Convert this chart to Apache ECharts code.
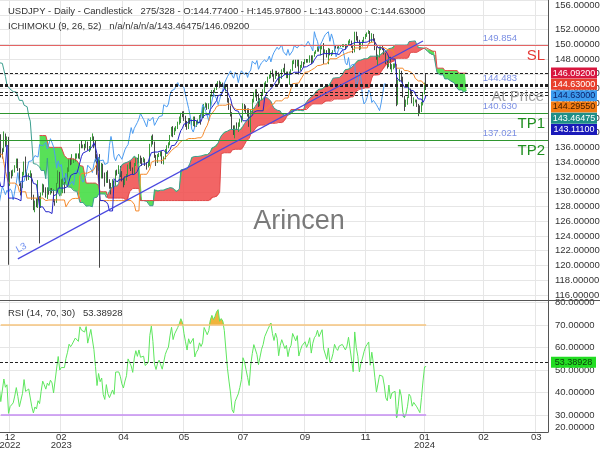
<!DOCTYPE html>
<html><head><meta charset="utf-8">
<script src="https://cdn.jsdelivr.net/npm/echarts@6/dist/echarts.min.js"></script>
<style>html,body{margin:0;padding:0;background:#fff}#c{width:600px;height:450px}</style>
</head><body><div id="c"></div>
<script>
// ---------- DATA ----------
const startDate = '2022-09-30';
const visibleStart = '2022-12-13';
const holidays = ['2022-12-26','2023-01-02','2023-12-25','2024-01-01'];
const futureDays = 78;
const tickDates = ['2022-12-21','2023-02-08','2023-04-05','2023-05-30','2023-07-21','2023-09-15','2023-11-09','2024-01-04','2024-02-11','2024-03-16'];

const open = [
144.45,144.74,144.82,144.13,144.56,145.14,145.33,145.70,145.82,146.89,147.20,148.72,148.96,149.26,149.87,150.15,147.66,148.95,148.02,146.37,146.30,147.46,148.71,148.21,147.89,148.19,146.61,146.62,145.63,146.40,141.00,138.77,139.91,139.32,139.53,140.19,140.38,142.04,141.22,139.60,138.60,139.17,138.92,138.68,138.05,135.30,134.32,136.73,137.00,136.60,136.59,136.59,
137.72,135.60,135.48,137.76,136.62,136.88,131.70,132.44,132.40,132.80,133.50,134.40,133.00,
131.10,131.00,132.40,134.00,132.10,131.90,132.30,132.40,129.20,127.90,128.50,128.10,128.90,128.40,129.60,130.70,130.20,129.60,130.20,129.90,130.40,
130.10,128.90,128.70,131.20,132.60,131.10,131.40,131.50,131.40,132.40,133.10,134.10,133.90,134.20,134.20,134.90,134.90,134.70,136.40,136.20,
136.20,136.10,136.70,135.80,135.90,137.20,137.30,136.10,134.90,133.20,134.20,133.40,133.70,131.90,131.30,132.50,131.40,130.90,130.70,131.40,130.90,132.80,132.70,
132.80,132.40,131.70,131.30,131.80,132.20,133.60,133.70,133.10,132.60,133.80,134.50,134.10,134.70,134.20,134.10,134.30,133.70,133.60,133.90,
136.30,137.50,136.50,134.70,134.20,134.80,135.10,135.20,134.40,134.50,135.70,136.10,136.40,137.60,138.70,137.90,138.60,138.60,139.40,139.90,140.60,140.40,139.80,
139.30,138.80,139.90,139.60,139.60,140.10,139.00,139.40,139.60,140.20,140.00,140.30,141.80,141.90,141.50,141.90,143.10,143.70,143.50,143.90,144.50,144.80,
144.30,144.60,144.50,144.10,144.10,142.20,141.30,140.30,138.50,138.10,138.80,138.70,139.20,139.60,140.10,141.80,141.50,140.90,140.30,139.60,141.20,
142.30,143.30,143.30,142.60,141.80,142.50,143.30,143.80,144.70,144.90,145.60,145.60,146.40,145.80,145.40,146.20,145.90,144.80,145.80,146.40,146.50,145.90,146.20,
145.50,146.20,146.50,147.70,147.70,147.30,147.80,146.60,147.10,147.50,147.40,147.90,147.60,147.90,148.40,147.60,148.40,148.90,149.10,149.60,149.30,
149.40,149.90,149.00,149.10,148.50,149.30,148.50,148.70,149.10,149.80,149.60,149.50,149.80,149.80,149.90,149.90,149.70,149.90,150.40,150.40,149.60,149.10,
151.70,150.90,150.40,149.40,150.00,150.40,150.90,151.30,151.50,151.70,150.40,151.40,150.70,149.60,148.30,148.40,149.50,149.60,149.40,148.70,147.50,147.20,
148.20,146.80,147.20,147.20,147.30,144.10,144.90,146.20,145.40,142.90,141.90,142.20,142.80,143.80,143.50,142.10,142.40,142.40,141.80,141.40,
141.00,142.00,143.30,144.774];

const high = [
144.90,145.05,144.90,144.85,145.20,145.45,145.90,145.85,146.95,147.65,148.85,149.10,149.40,149.95,150.30,151.94,149.70,149.20,148.30,146.80,147.85,148.85,148.80,148.30,148.40,148.40,147.00,146.80,146.60,146.79,141.60,140.50,140.40,140.20,140.70,140.50,142.25,142.20,141.60,139.70,139.40,139.30,139.20,139.90,138.10,135.90,136.90,137.40,137.85,137.10,136.80,137.90,
137.80,135.90,138.18,137.90,137.50,137.45,132.70,132.90,133.00,133.60,134.50,134.50,133.20,
131.40,132.70,134.10,134.77,132.70,132.50,132.90,132.50,129.60,128.80,129.10,131.58,129.40,129.90,131.10,131.00,130.60,130.60,130.60,130.50,130.50,
130.30,129.00,131.20,132.90,132.70,131.70,131.90,131.90,132.50,133.30,134.40,134.60,135.10,134.50,135.20,135.20,135.20,136.50,136.90,136.40,
136.50,137.00,136.80,136.20,137.40,137.91,137.50,136.90,135.10,134.70,135.10,133.90,133.80,132.60,132.70,132.90,131.70,131.20,131.70,131.50,132.90,133.00,133.60,
133.50,132.80,131.90,132.10,132.40,133.70,134.00,134.10,133.30,133.90,134.60,134.60,135.10,134.90,134.60,134.70,134.50,134.00,134.10,136.50,
137.60,137.77,136.80,135.00,135.10,135.30,135.50,135.50,134.80,135.80,136.30,136.70,137.70,138.80,138.90,138.70,138.90,139.50,140.20,140.70,140.90,140.93,140.30,
139.60,140.00,140.00,139.80,140.20,140.20,139.60,139.80,140.40,140.50,141.50,141.90,142.10,142.00,142.00,143.20,143.80,143.80,144.10,144.70,145.00,145.07,
144.90,144.80,144.70,144.60,144.30,142.70,141.70,140.80,139.00,139.00,139.40,139.40,139.90,140.30,142.00,141.90,141.70,141.30,141.30,141.20,142.60,
143.50,143.90,143.90,143.30,142.70,143.50,143.90,144.80,145.00,145.60,145.90,146.40,146.60,146.00,146.40,146.40,146.20,146.00,146.60,146.80,147.37,146.30,146.30,
146.30,146.60,147.80,147.90,147.90,147.90,147.90,147.20,147.70,147.60,148.00,148.00,148.00,148.50,148.50,148.50,149.00,149.20,149.70,149.70,149.80,
149.90,150.16,149.30,149.20,149.50,149.40,148.90,149.20,149.80,149.80,149.70,149.90,149.90,150.00,150.00,150.00,150.00,150.50,150.70,150.50,149.80,151.70,
151.70,151.10,150.60,150.20,150.60,151.00,151.40,151.60,151.91,151.80,151.50,151.40,150.80,149.70,148.60,149.70,149.70,149.80,149.50,148.80,147.80,148.35,
148.30,147.30,147.40,147.40,147.30,145.20,146.60,146.40,145.60,143.00,142.50,142.90,144.90,144.00,143.70,142.80,142.50,142.50,141.90,141.70,
142.20,143.40,144.80,145.978];

const low = [
144.30,144.60,143.85,143.75,144.45,144.75,145.30,145.35,145.75,146.35,147.10,148.50,148.80,149.10,149.70,146.23,145.50,147.70,146.20,145.10,145.80,147.30,147.60,146.60,147.20,146.55,146.30,145.30,145.30,140.88,138.47,138.60,137.68,139.00,139.20,139.40,140.20,140.90,139.40,138.05,138.40,137.50,137.80,137.90,135.00,133.63,134.10,123.30,136.40,136.20,135.80,136.50,
134.65,134.50,135.40,136.10,136.30,120.10,130.80,131.80,132.10,132.60,133.20,132.80,130.80,
129.50,130.50,132.20,132.00,131.50,131.60,131.90,128.90,127.50,127.22,127.90,127.80,123.00,127.80,129.50,129.90,129.20,129.00,129.60,129.60,129.80,
128.60,128.10,128.50,131.10,130.50,130.60,129.80,129.80,131.20,131.50,132.70,133.60,133.70,133.90,134.10,134.50,134.50,134.40,135.90,135.90,
135.60,135.90,135.60,135.40,135.60,136.90,135.90,134.10,132.30,132.80,119.70,131.80,131.80,130.70,131.20,131.20,130.40,129.64,130.60,130.40,130.80,132.20,132.40,
132.00,131.40,130.60,130.90,131.50,132.00,133.10,132.80,132.40,132.40,133.50,133.80,133.90,133.80,133.50,134.00,133.50,133.00,133.30,133.50,
136.10,136.40,134.60,133.50,133.90,134.70,134.80,133.80,133.70,134.40,135.20,135.90,136.30,137.50,137.40,137.70,138.20,138.50,139.10,139.30,140.10,139.60,138.80,
138.40,138.50,139.20,139.00,138.90,138.80,138.80,139.20,139.30,139.10,140.00,140.00,141.40,141.10,141.20,141.40,142.90,142.90,143.40,143.80,144.30,144.10,
144.20,144.20,143.90,143.60,142.10,141.10,140.20,138.40,137.70,137.24,138.40,138.10,138.80,139.40,139.80,140.90,140.60,140.20,138.80,138.05,140.70,
142.10,142.80,142.30,141.50,141.60,142.40,143.10,143.40,144.40,144.80,145.30,145.40,145.60,144.90,145.30,145.70,144.50,144.70,145.30,146.20,145.80,145.40,145.40,
144.50,146.00,146.40,147.30,146.80,147.00,145.90,146.40,146.80,146.90,147.30,147.50,147.50,147.50,147.30,147.50,148.30,148.70,149.00,149.00,148.50,
149.30,147.30,148.80,148.20,147.30,148.50,148.40,148.60,149.00,149.40,149.40,149.40,149.60,149.60,149.60,149.30,149.60,149.80,150.10,149.50,148.80,148.90,
150.50,150.20,149.20,149.30,149.70,150.30,150.70,151.00,151.40,150.10,150.30,150.50,149.20,147.90,147.15,148.20,149.20,149.20,148.60,147.30,146.70,146.90,
146.60,146.20,146.60,146.80,141.60,141.80,144.90,144.90,142.80,140.95,141.50,141.80,142.70,143.20,142.00,141.60,142.10,141.50,140.25,140.60,
140.80,141.70,143.20,143.800];

const close = [
144.74,144.82,144.13,144.56,145.14,145.33,145.70,145.82,146.89,147.20,148.72,148.96,149.26,149.87,150.15,147.66,148.95,148.02,146.37,146.30,147.46,148.71,148.21,147.89,148.19,146.61,146.62,145.63,146.40,141.00,138.77,139.91,139.32,139.53,140.19,140.38,142.04,141.22,139.60,138.60,139.17,138.92,138.68,138.05,135.30,134.32,136.73,137.00,136.60,136.59,136.59,137.72,
135.60,135.48,137.76,136.62,136.88,131.70,132.44,132.40,132.80,133.50,134.40,133.00,131.10,
131.00,132.40,134.00,132.10,131.90,132.30,132.40,129.20,127.90,128.50,128.10,128.90,128.40,129.60,130.70,130.20,129.60,130.20,129.90,130.40,130.10,
128.90,128.70,131.20,132.60,131.10,131.40,131.50,131.40,132.40,133.10,134.10,133.90,134.20,134.20,134.90,134.90,134.70,136.40,136.20,136.20,
136.10,136.70,135.80,135.90,137.20,137.30,136.10,134.90,133.20,134.20,133.40,133.70,131.90,131.30,132.50,131.40,130.90,130.70,131.40,130.90,132.80,132.70,132.80,
132.40,131.70,131.30,131.80,132.20,133.60,133.70,133.10,132.60,133.80,134.50,134.10,134.70,134.20,134.10,134.30,133.70,133.60,133.90,136.30,
137.50,136.50,134.70,134.20,134.80,135.10,135.20,134.40,134.50,135.70,136.10,136.40,137.60,138.70,137.90,138.60,138.60,139.40,139.90,140.60,140.40,139.80,139.30,
138.80,139.90,139.60,139.60,140.10,139.00,139.40,139.60,140.20,140.00,140.30,141.80,141.90,141.50,141.90,143.10,143.70,143.50,143.90,144.50,144.80,144.30,
144.60,144.50,144.10,144.10,142.20,141.30,140.30,138.50,138.10,138.80,138.70,139.20,139.60,140.10,141.80,141.50,140.90,140.30,139.60,141.20,142.30,
143.30,143.30,142.60,141.80,142.50,143.30,143.80,144.70,144.90,145.60,145.60,146.40,145.80,145.40,146.20,145.90,144.80,145.80,146.40,146.50,145.90,146.20,145.50,
146.20,146.50,147.70,147.70,147.30,147.80,146.60,147.10,147.50,147.40,147.90,147.60,147.90,148.40,147.60,148.40,148.90,149.10,149.60,149.30,149.40,
149.90,149.00,149.10,148.50,149.30,148.50,148.70,149.10,149.80,149.60,149.50,149.80,149.80,149.90,149.90,149.70,149.90,150.40,150.40,149.60,149.10,151.70,
150.90,150.40,149.40,150.00,150.40,150.90,151.30,151.50,151.70,150.40,151.40,150.70,149.60,148.30,148.40,149.50,149.60,149.40,148.70,147.50,147.20,148.20,
146.80,147.20,147.20,147.30,144.10,144.90,146.20,145.40,142.90,141.90,142.20,142.80,143.80,143.50,142.10,142.40,142.40,141.80,141.40,141.00,
142.00,143.30,144.60,144.630];

const tradeLevels = [149.854, 140.630, 137.021];
const tradeNames = ['SL', 'TP1', 'TP2'];
const atPriceLevel = 144.483;
const tagValues = [146.092, 144.630, 144.630, 144.2955, 143.46475, 143.111];
const trendStart = ['2022-12-29', 120.9];
const trendEnd = ['2024-01-03', 150.44];
const rsiLast = 53.38928;
const headerLine1 = 'USDJPY - Daily - Candlestick   275/328 - O:144.77400 - H:145.97800 - L:143.80000 - C:144.63000';
const headerLine2 = 'ICHIMOKU (9, 26, 52)   n/a/n/a/n/a/143.46475/146.09200';
const rsiHeader = 'RSI (14, 70, 30)   53.38928';

// ---------- BUILD ----------
const N = close.length;
function fmt(d){return d.toISOString().slice(0,10);}
const dates = [];
let d = new Date(startDate + 'T00:00:00Z');
while (dates.length < N) {
  const wd = d.getUTCDay(), s = fmt(d);
  if (wd !== 0 && wd !== 6 && holidays.indexOf(s) < 0) dates.push(s);
  d.setUTCDate(d.getUTCDate() + 1);
}
for (let k = 0; k < futureDays; k++) { dates.push(fmt(d)); d.setUTCDate(d.getUTCDate() + 1); }
const T = dates.length;
const xMin = dates.indexOf(visibleStart);

const candle = [];
for (let i = 0; i < N; i++) candle.push([open[i], close[i], low[i], high[i]]);

function mid(i, n){
  if (i < n - 1) return null;
  let h = -Infinity, l = Infinity;
  for (let k = i - n + 1; k <= i; k++) { if (high[k] > h) h = high[k]; if (low[k] < l) l = low[k]; }
  return (h + l) / 2;
}
const tenkan = new Array(T).fill(null), kijun = new Array(T).fill(null), chikou = new Array(T).fill(null);
const spanA = new Array(T).fill(null), spanB = new Array(T).fill(null);
for (let i = 0; i < N; i++) {
  tenkan[i] = mid(i, 9); kijun[i] = mid(i, 26);
  if (i >= 26) chikou[i - 26] = close[i];
  if (tenkan[i] != null && kijun[i] != null) spanA[i + 26] = (tenkan[i] + kijun[i]) / 2;
  const b = mid(i, 52); if (b != null) spanB[i + 26] = b;
}
const cBase = [], cRed = [], cGreen = [];
for (let i = 0; i < T; i++) {
  const a = spanA[i], b = spanB[i];
  if (a == null || b == null) { cBase.push(null); cRed.push(null); cGreen.push(null); continue; }
  cBase.push(Math.min(a, b)); cRed.push(a > b ? a - b : 0); cGreen.push(a > b ? 0 : b - a);
}
// RSI (Wilder, 14)
const rsi = new Array(T).fill(null);
let ag = 0, al = 0;
for (let i = 1; i <= 14; i++) { const df = close[i] - close[i-1]; ag += Math.max(df, 0); al += Math.max(-df, 0); }
ag /= 14; al /= 14; rsi[14] = 100 - 100 / (1 + ag / al);
for (let i = 15; i < N; i++) {
  const df = close[i] - close[i-1];
  ag = (ag * 13 + Math.max(df, 0)) / 14; al = (al * 13 + Math.max(-df, 0)) / 14;
  rsi[i] = 100 - 100 / (1 + ag / al);
}
const rsiHi = rsi.map(v => v == null ? null : Math.max(v, 70));
const rsiLo = rsi.map(v => v == null ? null : Math.min(v, 30));

// ---------- CHART ----------
const FONT = '"Liberation Sans", Arial, sans-serif';
const mainMax = 156, mainMin = 156 - 300 / 7.375;
const rsiMax = 70 + 25 / 2.25, rsiMin = 70 - 107 / 2.25;
const isTick = (idx, val) => tickDates.indexOf(val) >= 0;
function tickLabel(v){
  const i = tickDates.indexOf(v); if (i < 0) return '';
  const y = v.slice(0,4), m = v.slice(5,7);
  return (i === 0 || tickDates[i-1].slice(0,4) !== y) ? m + '\n' + y : m;
}
const lvlLines = [];
tradeLevels.forEach((v, i) => {
  const col = i === 0 ? '#e46464' : '#2f962f';
  lvlLines.push({yAxis: v, lineStyle: {color: col, type: 'solid', width: 1},
    label: {show: true, position: 'insideEndTop', distance: 2, formatter: v.toFixed(3), color: '#7b8fe3', fontSize: 9.5, fontFamily: FONT, padding: [0, 29, 0, 0]}});
  lvlLines.push({yAxis: v, lineStyle: {color: col, type: 'solid', width: 1},
    label: {show: true, position: 'insideEndBottom', distance: 3, formatter: tradeNames[i], color: i === 0 ? '#e53935' : '#1f8f1f', fontSize: 15, fontFamily: FONT}});
});
lvlLines.push({yAxis: atPriceLevel, lineStyle: {color: '#222', type: [3, 2], width: 1},
  label: {show: true, position: 'insideEndTop', distance: 2, formatter: atPriceLevel.toFixed(3), color: '#7b8fe3', fontSize: 9.5, fontFamily: FONT, padding: [0, 29, 0, 0]}});
lvlLines.push({yAxis: atPriceLevel, lineStyle: {color: '#222', type: [3, 2], width: 1},
  label: {show: true, position: 'insideEndBottom', distance: 4, formatter: 'At Price', color: '#a0a0a0', fontSize: 15, fontFamily: FONT}});
[...new Set(tagValues)].forEach(v => lvlLines.push({yAxis: v, lineStyle: {color: '#222', type: [3, 2], width: 1}, label: {show: false}}));
lvlLines.push([
  {coord: trendStart, lineStyle: {color: '#4a48e0', width: 1.2, type: 'solid'},
   label: {show: true, position: 'insideStartTop', distance: 3, formatter: 'L3', color: '#6f8ff0', fontSize: 9.5, fontFamily: FONT}},
  {coord: trendEnd}
]);

function lineSeries(name, data, color, z){
  return {name, type: 'line', data, xAxisIndex: 0, yAxisIndex: 0, symbol: 'none', showSymbol: false,
    lineStyle: {color, width: 1}, z: z || 3, silent: true, connectNulls: false};
}
function cloudSeries(name, data, fill){
  return {name, type: 'line', data, stack: 'cloud', xAxisIndex: 0, yAxisIndex: 0, symbol: 'none',
    lineStyle: {width: 0, opacity: 0}, areaStyle: fill ? {color: fill, opacity: 1} : undefined, z: 1, silent: true};
}

const chart = echarts.init(document.getElementById('c'));
const axisCol = '#555';
chart.setOption({
  animation: false,
  textStyle: {fontFamily: FONT},
  grid: [
    {left: 0, right: 52, top: 0, height: 300, outerBoundsMode: 'none'},
    {left: 0, right: 52, top: 300, height: 132, outerBoundsMode: 'none'}
  ],
  xAxis: [
    {type: 'category', gridIndex: 0, data: dates, min: xMin, max: T - 1,
     axisLine: {show: true, lineStyle: {color: axisCol}}, axisTick: {show: false}, axisLabel: {show: false},
     splitLine: {show: true, interval: isTick, lineStyle: {color: '#e6e6e6'}}},
    {type: 'category', gridIndex: 1, data: dates, min: xMin, max: T - 1,
     axisLine: {show: true, lineStyle: {color: axisCol}}, axisTick: {show: false},
     axisLabel: {show: true, interval: isTick, formatter: tickLabel, color: '#333', fontSize: 9.5, lineHeight: 8.5, margin: 1, fontFamily: FONT},
     splitLine: {show: true, interval: isTick, lineStyle: {color: '#e6e6e6'}}}
  ],
  yAxis: [
    {type: 'value', gridIndex: 0, position: 'right', min: mainMin, max: mainMax, splitNumber: 20, scale: true,
     axisLine: {show: true, lineStyle: {color: axisCol}}, axisTick: {show: false},
     axisLabel: {color: '#333', fontSize: 9.5, margin: 7, fontFamily: FONT, showMaxLabel: true, verticalAlignMaxLabel: 'top',
       formatter: v => (Math.abs(v - Math.round(v)) < 1e-6 && Math.round(v) % 2 === 0) ? v.toFixed(5) : ''},
     splitLine: {show: true, lineStyle: {color: '#e6e6e6'}}},
    {type: 'value', gridIndex: 1, position: 'right', min: rsiMin, max: rsiMax, splitNumber: 6, scale: true,
     axisLine: {show: true, lineStyle: {color: axisCol}}, axisTick: {show: false},
     axisLabel: {color: '#333', fontSize: 9.5, margin: 7, fontFamily: FONT, showMinLabel: true, verticalAlignMinLabel: 'bottom',
       formatter: v => (Math.abs(v / 10 - Math.round(v / 10)) < 1e-6) ? v.toFixed(5) : (Math.abs(v - rsiMin) < 1e-6 ? (Math.floor(v / 10) * 10).toFixed(5) : '')},
     splitLine: {show: true, lineStyle: {color: '#e6e6e6'}}}
  ],
  series: [
    cloudSeries('cloudBase', cBase, null),
    cloudSeries('cloudRed', cRed, 'rgba(240,80,80,0.88)'),
    cloudSeries('cloudGreen', cGreen, 'rgba(70,222,70,0.9)'),
    {name: 'USDJPY', type: 'candlestick', data: candle, xAxisIndex: 0, yAxisIndex: 0, z: 2, silent: true,
     itemStyle: {color: '#3a9a3a', color0: '#474747', borderColor: '#3a9a3a', borderColor0: '#474747', borderWidth: 1},
     markLine: {silent: true, symbol: ['none', 'none'], animation: false, data: lvlLines}},
    lineSeries('spanA', spanA, '#3c9f8f', 3),
    lineSeries('spanB', spanB, '#e04848', 3),
    lineSeries('chikou', chikou, '#4c9cf0', 3),
    lineSeries('kijun', kijun, '#f58a2c', 3),
    lineSeries('tenkan', tenkan, '#2323c9', 3),
    {name: 'rsiHi', type: 'line', data: rsiHi, xAxisIndex: 1, yAxisIndex: 1, symbol: 'none', silent: true,
     lineStyle: {width: 0, opacity: 0}, areaStyle: {origin: 70, color: '#f0b43c', opacity: 1}, z: 2},
    {name: 'rsiLo', type: 'line', data: rsiLo, xAxisIndex: 1, yAxisIndex: 1, symbol: 'none', silent: true,
     lineStyle: {width: 0, opacity: 0}, areaStyle: {origin: 30, color: '#6f8fb0', opacity: 1}, z: 2},
    {name: 'RSI', type: 'line', data: rsi, xAxisIndex: 1, yAxisIndex: 1, symbol: 'none', silent: true,
     lineStyle: {color: '#5ee65e', width: 1}, z: 4,
     markLine: {silent: true, symbol: ['none', 'none'], animation: false, label: {show: false}, data: [
       [{coord: [dates[xMin], 70], lineStyle: {color: '#f6c47e', width: 1.5, type: 'solid'}}, {coord: [dates[N - 1], 70]}],
       [{coord: [dates[xMin], 30], lineStyle: {color: '#c58cf2', width: 1.5, type: 'solid'}}, {coord: [dates[N - 1], 30]}],
       {yAxis: rsiLast, lineStyle: {color: '#222', width: 1, type: [3, 2]}}
     ]}}
  ]
});

// ---------- TEXT OVERLAYS ----------
const g = [];
g.push({type: 'text', x: 8, y: 6, z: 50, style: {text: headerLine1, font: '9.5px ' + FONT, fill: '#333'}});
g.push({type: 'text', x: 8, y: 21, z: 50, style: {text: headerLine2, font: '9.5px ' + FONT, fill: '#333'}});
g.push({type: 'text', x: 8, y: 308, z: 50, style: {text: rsiHeader, font: '9.5px ' + FONT, fill: '#333'}});
g.push({type: 'text', x: 299, y: 222, z: 0, style: {text: 'Arincen', font: '27px ' + FONT, fill: '#7a7a7a', align: 'center', verticalAlign: 'middle', textAlign: 'center', textVerticalAlign: 'middle'}});
g.push({type: 'line', z: 50, shape: {x1: 548, y1: 300.5, x2: 600, y2: 300.5}, style: {stroke: axisCol, lineWidth: 1}});
const tagFill = ['#d8173f', '#e8402c', '#3c9bee', '#f27b12', '#1f8f87', '#1a1ab9'];
const tagText = ['#fff', '#fff', '#0d1f66', '#3a1a00', '#fff', '#fff'];
let prevY = -Infinity;
tagValues.forEach((v, i) => {
  let y = chart.convertToPixel({yAxisIndex: 0}, v);
  y = Math.max(y, prevY + 11.3); prevY = y;
  g.push({type: 'rect', z: 60, shape: {x: 551, y: y - 5.5, width: 46, height: 11}, style: {fill: tagFill[i]}});
  g.push({type: 'text', z: 61, x: 574, y: y, style: {text: v.toFixed(5), font: '9px ' + FONT, fill: tagText[i], align: 'center', verticalAlign: 'middle', textAlign: 'center', textVerticalAlign: 'middle'}});
});
const ry = chart.convertToPixel({yAxisIndex: 1}, rsiLast);
g.push({type: 'rect', z: 60, shape: {x: 551, y: ry - 5.5, width: 45, height: 11}, style: {fill: '#22dd22'}});
g.push({type: 'text', z: 61, x: 573.5, y: ry, style: {text: rsiLast.toFixed(5), font: '9px ' + FONT, fill: '#0a3a0a', align: 'center', verticalAlign: 'middle', textAlign: 'center', textVerticalAlign: 'middle'}});
chart.setOption({graphic: g});
</script></body></html>
